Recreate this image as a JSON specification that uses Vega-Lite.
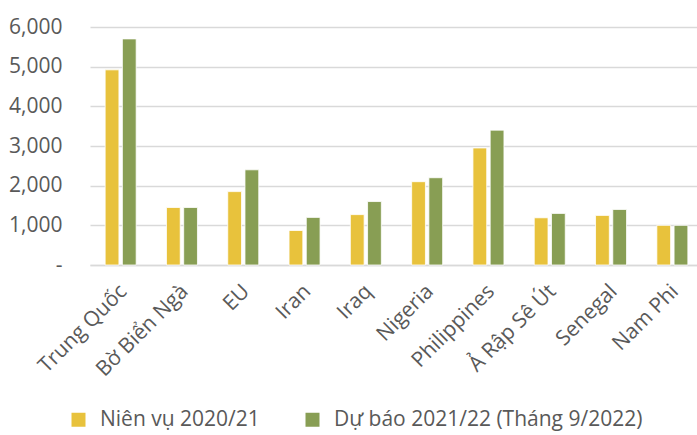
{
  "$schema": "https://vega.github.io/schema/vega-lite/v6.json",
  "autosize": "none",
  "width": 613,
  "height": 238,
  "padding": {"left": 90, "top": 27, "right": 0, "bottom": 170},
  "background": "white",
  "config": {
    "font": "Open Sans",
    "view": {"stroke": null}
  },
  "data": {
    "values": [
      {"country": "Trung Quốc", "series": "Niên vụ 2020/21", "value": 4920},
      {"country": "Trung Quốc", "series": "Dự báo 2021/22 (Tháng 9/2022)", "value": 5700},
      {"country": "Bờ Biển Ngà", "series": "Niên vụ 2020/21", "value": 1450},
      {"country": "Bờ Biển Ngà", "series": "Dự báo 2021/22 (Tháng 9/2022)", "value": 1450},
      {"country": "EU", "series": "Niên vụ 2020/21", "value": 1850},
      {"country": "EU", "series": "Dự báo 2021/22 (Tháng 9/2022)", "value": 2400},
      {"country": "Iran", "series": "Niên vụ 2020/21", "value": 870},
      {"country": "Iran", "series": "Dự báo 2021/22 (Tháng 9/2022)", "value": 1200},
      {"country": "Iraq", "series": "Niên vụ 2020/21", "value": 1270},
      {"country": "Iraq", "series": "Dự báo 2021/22 (Tháng 9/2022)", "value": 1600},
      {"country": "Nigeria", "series": "Niên vụ 2020/21", "value": 2100},
      {"country": "Nigeria", "series": "Dự báo 2021/22 (Tháng 9/2022)", "value": 2200},
      {"country": "Philippines", "series": "Niên vụ 2020/21", "value": 2950},
      {"country": "Philippines", "series": "Dự báo 2021/22 (Tháng 9/2022)", "value": 3400},
      {"country": "Ả Rập Sê Út", "series": "Niên vụ 2020/21", "value": 1190},
      {"country": "Ả Rập Sê Út", "series": "Dự báo 2021/22 (Tháng 9/2022)", "value": 1300},
      {"country": "Senegal", "series": "Niên vụ 2020/21", "value": 1250},
      {"country": "Senegal", "series": "Dự báo 2021/22 (Tháng 9/2022)", "value": 1400},
      {"country": "Nam Phi", "series": "Niên vụ 2020/21", "value": 1000},
      {"country": "Nam Phi", "series": "Dự báo 2021/22 (Tháng 9/2022)", "value": 1000}
    ]
  },
  "mark": {"type": "bar", "stroke": "white", "strokeWidth": 0.8},
  "encoding": {
    "x": {
      "field": "country",
      "type": "nominal",
      "sort": null,
      "scale": {"paddingInner": 0.494, "paddingOuter": 0.247},
      "axis": {
        "title": null,
        "labelAngle": -45,
        "labelAlign": "right",
        "labelBaseline": "middle",
        "labelFontSize": 21,
        "labelColor": "#595959",
        "labelPadding": 23,
        "labelOffset": 3,
        "labelLimit": 0,
        "labelOverlap": false,
        "ticks": false,
        "domainColor": "#d9d9d9",
        "domainWidth": 1.5,
        "grid": false
      }
    },
    "xOffset": {
      "field": "series",
      "type": "nominal",
      "sort": ["Niên vụ 2020/21", "Dự báo 2021/22 (Tháng 9/2022)"],
      "scale": {"paddingInner": 0.2}
    },
    "y": {
      "field": "value",
      "type": "quantitative",
      "scale": {"domain": [0, 6000]},
      "axis": {
        "title": null,
        "values": [0, 1000, 2000, 3000, 4000, 5000, 6000],
        "labelExpr": "datum.value == 0 ? '-' : format(datum.value, ',')",
        "labelFontSize": 21,
        "labelColor": "#595959",
        "labelPadding": 28,
        "ticks": false,
        "domain": false,
        "gridColor": "#d9d9d9",
        "gridWidth": 1.5
      }
    },
    "color": {
      "field": "series",
      "type": "nominal",
      "sort": ["Niên vụ 2020/21", "Dự báo 2021/22 (Tháng 9/2022)"],
      "scale": {"range": ["#E8C23C", "#889E54"]},
      "legend": {
        "title": null,
        "orient": "none",
        "legendX": -22,
        "legendY": 382,
        "direction": "horizontal",
        "symbolType": "square",
        "symbolSize": 196,
        "symbolStrokeWidth": 0,
        "labelFontSize": 21,
        "labelColor": "#595959",
        "labelOffset": 11,
        "labelLimit": 0,
        "columnPadding": 42
      }
    }
  }
}
